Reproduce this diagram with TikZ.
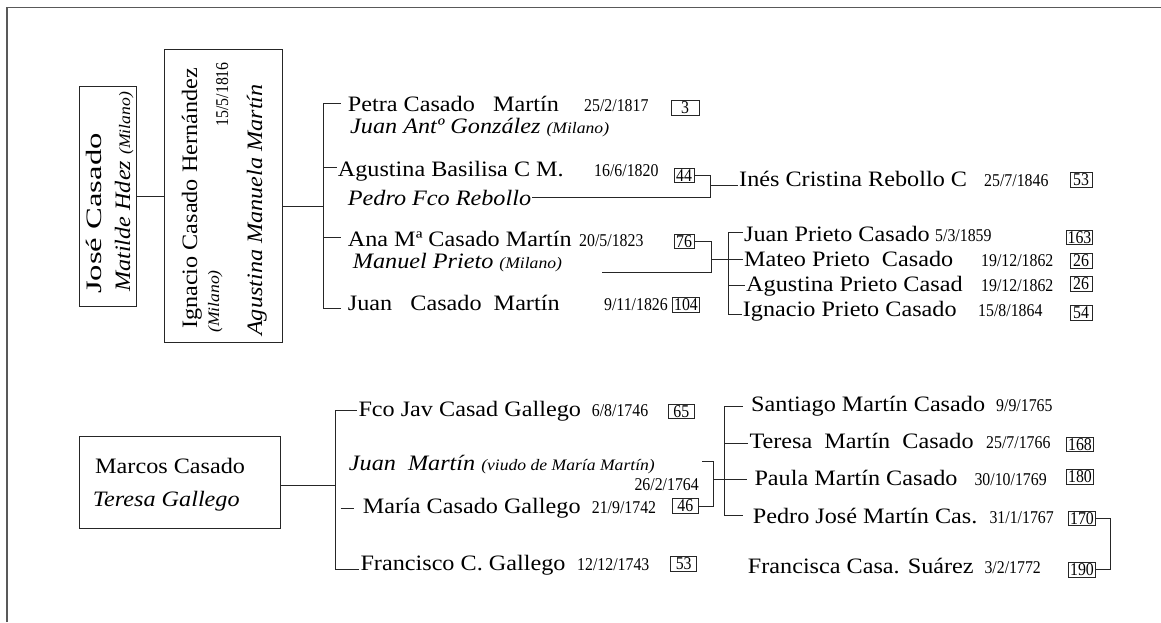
\documentclass[tikz,border=0pt]{standalone}
\usepackage{fontspec}
\setmainfont{Liberation Serif}[FakeStretch=1.1]
\newfontfamily\dateserif{Liberation Serif}[FakeStretch=0.88]
\usetikzlibrary{calc}
\newcommand{\nmfont}{\fontsize{22}{25}\selectfont}
\newcommand{\dtfont}{\dateserif\fontsize{18}{20}\selectfont}
\newcommand{\smit}[1]{{\fontsize{16}{18}\selectfont\itshape #1}}
\tikzset{
	nm/.style={anchor=base west,inner sep=1pt,font=\nmfont},
	sp/.style={anchor=base west,inner sep=1pt,font=\nmfont\itshape},
	dt/.style={anchor=base west,inner sep=1pt,font=\dtfont},
	num/.style={draw=black!85,line width=0.8pt,inner xsep=1.5pt,inner ysep=0.5pt,minimum width=20pt,minimum height=14.5pt,font=\dtfont},
	fbox/.style={draw=black!85,line width=1pt},
	ln/.style={draw=black!85,line width=0.9pt},
	brd/.style={draw=black!65,line width=1.5pt}
}

\begin{document}
\begin{tikzpicture}[x=1pt,y=-1pt]
	\useasboundingbox (0,0) rectangle (1161,622);
	\draw [brd] (7,622) -- (7,7.5) -- (1161,7.5);

	\node [fbox,minimum width=57pt,minimum height=220pt] (jose) at (107.5,196) {};
	\node [nm,rotate=90] (josen) at (101.5,295) {\scalebox{1.35}[1]{José Casado}};
	\node [sp,rotate=90] (josew) at (130,293) {Matilde Hdez \smit{(Milano)}};

	\node [fbox,minimum width=118pt,minimum height=293pt] (ignacio) at (223,195.5) {};
	\node [nm,rotate=90] (ignan) at (197,330) {Ignacio Casado Hernández};
	\node [sp,rotate=90] (ignam) at (219,334) {\smit{(Milano)}};
	\node [dt,rotate=90,anchor=base east] (ignad) at (228,61) {15/5/1816};
	\node [sp,rotate=90] (ignaw) at (262,337) {Agustina Manuela Martín};

	\coordinate (k1) at (323,103);
	\coordinate (k2) at (323,167);
	\coordinate (k3) at (323,237);
	\coordinate (k4) at (323,308);
	\coordinate (km) at (323,206);

	\node [nm] (petra) at (346.7,111.7) {Petra Casado\ \ \ Martín};
	\node [dt] (petrad) at (583,111.7) {25/2/1817};
	\node [num,minimum width=28pt] (n3) at (685,108) {3};
	\node [sp] (petras) at (349,133) {Juan Antº González \smit{(Milano)}};

	\node [nm] (agus) at (336.7,176.7) {Agustina Basilisa C M.};
	\node [dt] (agusd) at (593,176.7) {16/6/1820};
	\node [num] (n44) at (684,175.5) {44};
	\node [sp] (aguss) at (346.7,205) {Pedro Fco Rebollo};
	\coordinate (c44) at (710,185);

	\node [nm] (ines) at (738,186.7) {Inés Cristina Rebollo C};
	\node [dt] (inesd) at (983,186.7) {25/7/1846};
	\node [num,minimum width=22pt] (n53a) at (1081,180) {53};

	\node [nm] (ana) at (346.7,246.7) {Ana Mª Casado Martín};
	\node [dt] (anad) at (578,246.7) {20/5/1823};
	\node [num] (n76) at (684,241.5) {76};
	\node [sp] (anas) at (351.7,268.3) {Manuel Prieto \smit{(Milano)}};
	\coordinate (anal) at (601.7,272);
	\coordinate (c76) at (711.7,259);

	\node [nm] (juan) at (346.7,310) {Juan\ \ \ Casado\ \ Martín};
	\node [dt,anchor=base east] (juand) at (669,310) {9/11/1826};
	\node [num,minimum width=22pt] (n104) at (686,305) {104};

	\coordinate (p1) at (728.3,232);
	\coordinate (p2) at (728.3,259);
	\coordinate (p3) at (728.3,285);
	\coordinate (p4) at (728.3,314);

	\node [nm] (juanp) at (743,241.7) {Juan Prieto Casado};
	\node [dt] (juanpd) at (934,241.7) {5/3/1859};
	\node [num] (n163) at (1079.5,237.5) {163};
	\node [nm] (mateo) at (743,266.7) {Mateo Prieto\ \ Casado};
	\node [dt] (mateod) at (980,266.7) {19/12/1862};
	\node [num,minimum width=22pt] (n26a) at (1081,261) {26};
	\node [nm] (agusp) at (745,291.7) {Agustina Prieto Casad};
	\node [dt] (aguspd) at (980,291.7) {19/12/1862};
	\node [num,minimum width=22pt] (n26b) at (1081,284) {26};
	\node [nm] (ignp) at (741.7,316.7) {Ignacio Prieto Casado};
	\node [dt] (ignpd) at (977,316.7) {15/8/1864};
	\node [num,minimum width=22pt] (n54) at (1081,313) {54};

	\draw [ln] (jose.east) -- (jose.east -| ignacio.west);
	\draw [ln] (ignacio.east |- km) -- (km);
	\draw [ln] (k1) -- (k4);
	\draw [ln] (k1) -- ($(k1 -| petra.west)+(-6,0)$);
	\draw [ln] (k2) -- (k2 -| agus.west);
	\draw [ln] (k3) -- ($(k3 -| ana.west)+(-6,0)$);
	\draw [ln] (k4) -- ($(k4 -| juan.west)+(-6,0)$);
	\draw [ln] (n44.east) -- (n44.east -| c44) |- (aguss.east);
	\draw [ln] (c44) -- (c44 -| ines.west);
	\draw [ln] (n76.east) -- (n76.east -| c76) |- (anal);
	\draw [ln] (c76) -- (p2);
	\draw [ln] (p1) -- (p4);
	\draw [ln] (p1) -- (p1 -| juanp.west);
	\draw [ln] (p2) -- (p2 -| mateo.west);
	\draw [ln] (p3) -- (p3 -| agusp.west);
	\draw [ln] (p4) -- (p4 -| ignp.west);

	\node [fbox,minimum width=201pt,minimum height=92pt] (marcos) at (179.5,482.5) {};
	\node [nm] (marcosn) at (94,473.3) {Marcos Casado};
	\node [sp] (marcoss) at (91.7,506.7) {Teresa Gallego};

	\coordinate (q1) at (335,410);
	\coordinate (qm) at (335,485);
	\coordinate (q4) at (335,569);

	\node [nm] (fco) at (357.3,416.7) {Fco Jav Casad Gallego};
	\node [dt] (fcod) at (590.7,416.7) {6/8/1746};
	\node [num,minimum width=26pt] (n65) at (681.3,411.3) {65};
	\node [sp] (juanm) at (347.7,470) {Juan\ \ Martín \smit{(viudo de María Martín)}};
	\node [dt,anchor=base east] (boda) at (700,490) {26/2/1764};
	\node [nm] (maria) at (361.7,513.3) {María Casado Gallego};
	\node [dt] (mariad) at (590.7,513.3) {21/9/1742};
	\node [num,minimum width=26pt] (n46) at (685.3,506) {46};
	\node [nm] (franc) at (359.3,570) {Francisco C. Gallego};
	\node [dt] (francd) at (576,570) {12/12/1743};
	\node [num,minimum width=26pt] (n53b) at (683.7,564) {53};

	\coordinate (r46) at (713,479.3);
	\coordinate (r46t) at (701.7,461.7);
	\coordinate (s1) at (724.3,406.7);
	\coordinate (s2) at (724.3,443.3);
	\coordinate (s3) at (724.3,479.3);
	\coordinate (s4) at (724.3,515.7);

	\node [nm] (sant) at (750,411.7) {Santiago Martín Casado};
	\node [dt] (santd) at (995,411.7) {9/9/1765};
	\node [nm] (teresa) at (748.3,448.3) {Teresa\ \ Martín\ \ Casado};
	\node [dt] (teresad) at (985,448.3) {25/7/1766};
	\node [num] (n168) at (1080,444.2) {168};
	\node [nm] (paula) at (753.3,485) {Paula Martín Casado};
	\node [dt] (paulad) at (973.3,485) {30/10/1769};
	\node [num] (n180) at (1080,476.7) {180};
	\node [nm] (pedro) at (751.7,523.3) {Pedro José Martín Cas.};
	\node [dt] (pedrod) at (988.3,523.3) {31/1/1767};
	\node [num] (n170) at (1082,518.5) {170};
	\node [nm] (francis) at (746.7,573.3) {Francisca Casa. Suárez};
	\node [dt] (francisd) at (983.3,573.3) {3/2/1772};
	\node [num] (n190) at (1082,569.7) {190};
	\coordinate (r170) at (1110.7,545);

	\draw [ln] (marcos.east |- qm) -- (qm);
	\draw [ln] (q1) -- (q4);
	\draw [ln] (q1) -- (q1 -| fco.west);
	\draw [ln] (q4) -- (q4 -| franc.west);
	\draw [ln] ($(maria.west)+(-21,0)$) -- ($(maria.west)+(-8,0)$);
	\draw [ln] (n46.east) -| (r46t -| r46) -- (r46t);
	\draw [ln] (r46) -- (s3);
	\draw [ln] (s1) -- (s4);
	\draw [ln] (s1) -- ($(s1 -| sant.west)+(-7,0)$);
	\draw [ln] (s2) -- (s2 -| teresa.west);
	\draw [ln] (s3) -- ($(s3 -| paula.west)+(-6,0)$);
	\draw [ln] (s4) -- ($(s4 -| pedro.west)+(-9,0)$);
	\draw [ln] (n170.east) -| (r170) |- (n190.east);
\end{tikzpicture}
\end{document}
